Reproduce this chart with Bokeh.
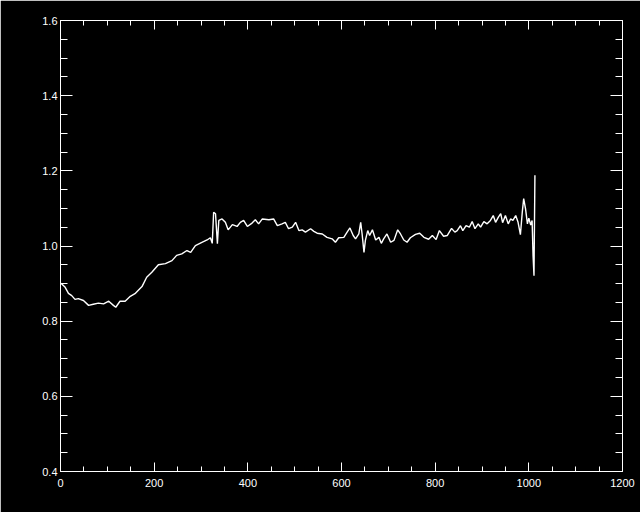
from bokeh.plotting import figure
from bokeh.models import LinearAxis, SingleIntervalTicker, Range1d, CustomJSTickFormatter
from bokeh.embed import file_html
from bokeh.resources import INLINE

x_vals = [1, 10, 17, 24, 31, 38, 49, 60, 70, 81, 92, 103, 113, 118, 127, 138, 149, 159, 174, 184,
          195, 209, 224, 238, 248, 259, 270, 278, 288, 303, 313, 320, 324, 327, 331, 335, 338, 345,
          352, 358, 367, 377, 384, 391, 399, 409, 416, 423, 431, 445, 455, 463, 473, 480, 487, 495,
          502, 509, 516, 523, 534, 541, 548, 559, 569, 580, 587, 594, 605, 612, 618, 625, 630, 637,
          641, 644, 648, 651, 656, 660, 666, 673, 680, 685, 690, 697, 705, 712, 720, 726, 733, 740,
          747, 758, 767, 776, 786, 794, 802, 809, 818, 826, 835, 842, 847, 854, 859, 866, 873, 879,
          885, 892, 897, 904, 911, 918, 924, 929, 935, 940, 944, 950, 956, 961, 966, 972, 977, 982,
          986, 989, 993, 997, 1000, 1004, 1007, 1009, 1011, 1013]
y_vals = [0.901, 0.890, 0.874, 0.868, 0.858, 0.860, 0.855, 0.842, 0.845, 0.848, 0.846, 0.853, 0.842,
          0.837, 0.853, 0.853, 0.866, 0.873, 0.892, 0.917, 0.930, 0.950, 0.953, 0.961, 0.975, 0.979,
          0.988, 0.983, 1.001, 1.010, 1.016, 1.022, 1.007, 1.090, 1.086, 1.006, 1.068, 1.072, 1.063,
          1.043, 1.057, 1.052, 1.063, 1.068, 1.052, 1.061, 1.070, 1.059, 1.072, 1.070, 1.072, 1.054,
          1.059, 1.063, 1.046, 1.050, 1.063, 1.041, 1.043, 1.037, 1.046, 1.039, 1.034, 1.032, 1.023,
          1.019, 1.010, 1.022, 1.023, 1.037, 1.048, 1.028, 1.019, 1.032, 1.063, 1.032, 0.983, 1.015,
          1.041, 1.028, 1.043, 1.016, 1.023, 1.007, 1.019, 1.032, 1.010, 1.015, 1.043, 1.032, 1.016,
          1.010, 1.022, 1.031, 1.034, 1.023, 1.018, 1.028, 1.017, 1.041, 1.026, 1.028, 1.047, 1.037,
          1.041, 1.054, 1.041, 1.054, 1.050, 1.065, 1.046, 1.059, 1.050, 1.065, 1.059, 1.068, 1.081,
          1.063, 1.077, 1.086, 1.062, 1.081, 1.059, 1.072, 1.068, 1.081, 1.063, 1.030, 1.090, 1.126,
          1.099, 1.059, 1.074, 1.056, 1.068, 0.975, 0.921, 1.188]

x_range = (0, 1200)
y_range = (0.4, 1.6)

W, H = 640, 512
p = figure(width=W, height=H, output_backend="svg", toolbar_location=None,
           x_range=Range1d(*x_range), y_range=Range1d(*y_range),
           x_axis_type=None, y_axis_type=None,
           min_border_left=60, min_border_right=18, min_border_top=20, min_border_bottom=41)
p.background_fill_color = "black"
p.border_fill_color = "black"
p.outline_line_color = None
p.xgrid.visible = False
p.ygrid.visible = False

FONT = "Liberation Sans"

def style(ax, major, minor, show_labels):
    ax.axis_line_color = "white"
    ax.axis_line_width = 1
    ax.major_tick_line_color = "white"
    ax.minor_tick_line_color = "white"
    ax.major_tick_in = major
    ax.major_tick_out = 0
    ax.minor_tick_in = minor
    ax.minor_tick_out = 0
    ax.major_label_text_color = "white"
    ax.major_label_text_font = FONT
    ax.major_label_text_font_size = "11px" if show_labels else "0px"
    if not show_labels:
        ax.major_label_text_alpha = 0

xt = lambda: SingleIntervalTicker(interval=200, num_minor_ticks=4)
yt = lambda: SingleIntervalTicker(interval=0.2, num_minor_ticks=4)

xb = LinearAxis(ticker=xt())
style(xb, 9, 5, True)
xb.major_label_standoff = 7
xa = LinearAxis(ticker=xt())
style(xa, 9, 5, False)
yl = LinearAxis(ticker=yt(), formatter=CustomJSTickFormatter(code="return tick.toFixed(1);"))
style(yl, 12, 7, True)
yl.major_label_standoff = 3
yr = LinearAxis(ticker=yt())
style(yr, 12, 7, False)

p.add_layout(xb, "below")
p.add_layout(xa, "above")
p.add_layout(yl, "left")
p.add_layout(yr, "right")

p.line(x_vals, y_vals, line_color="white", line_width=1.4)

open("out.html", "w").write(file_html(p, INLINE))
